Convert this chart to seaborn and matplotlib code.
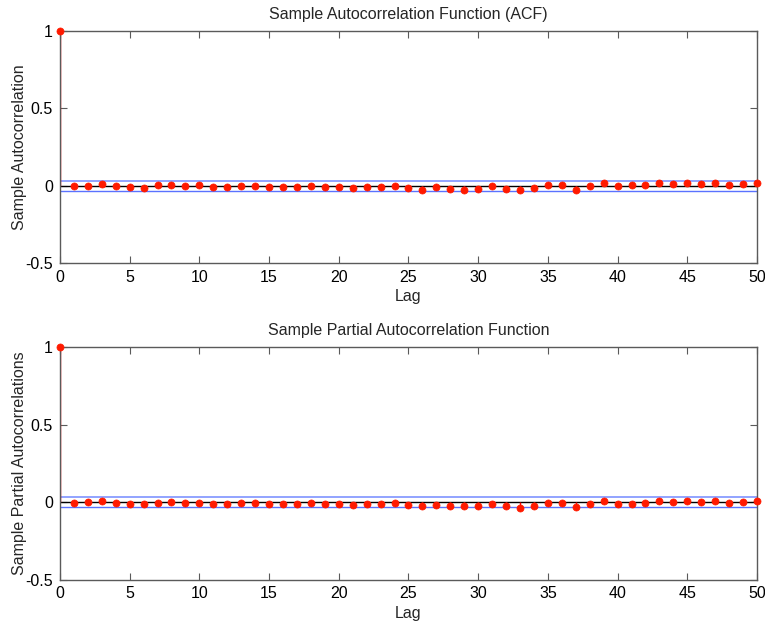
import numpy as np
import pandas as pd
import matplotlib
matplotlib.use("Agg")
import matplotlib.pyplot as plt
import seaborn as sns

lags = list(range(0, 51))
acf = [1.0,
       -0.004, -0.004, 0.011, -0.004, -0.009, -0.013, 0.002, 0.006, -0.004, 0.002,
       -0.009, -0.009, -0.002, -0.002, -0.009, -0.009, -0.009, 0.000, -0.009, -0.009,
       -0.015, -0.006, -0.006, -0.002, -0.015, -0.026, -0.009, -0.019, -0.026, -0.022,
       -0.002, -0.019, -0.030, -0.013, 0.006, 0.006, -0.026, 0.000, 0.019, -0.004,
       0.002, 0.006, 0.019, 0.013, 0.015, 0.013, 0.019, 0.004, 0.011, 0.019]
pacf = [1.0,
        -0.006, -0.002, 0.006, -0.006, -0.013, -0.013, -0.004, 0.000, -0.004, -0.004,
        -0.015, -0.015, -0.009, -0.009, -0.015, -0.015, -0.015, -0.009, -0.015, -0.015,
        -0.022, -0.015, -0.015, -0.009, -0.019, -0.028, -0.019, -0.028, -0.028, -0.028,
        -0.013, -0.028, -0.039, -0.024, -0.006, -0.006, -0.034, -0.015, 0.009, -0.015,
        -0.015, -0.006, 0.006, 0.000, 0.006, 0.000, 0.009, -0.004, 0.000, 0.009]
bound = 0.033
titles = ["Sample Autocorrelation Function (ACF)", "Sample Partial Autocorrelation Function"]
ylabels = ["Sample Autocorrelation", "Sample Partial Autocorrelations"]
xticks = [0, 5, 10, 15, 20, 25, 30, 35, 40, 45, 50]
yticks = [-0.5, 0, 0.5, 1]
yticklabels = ["-0.5", "0", "0.5", "1"]

sns.set_theme(style="white")
plt.rcParams['font.family'] = ['Liberation Sans', 'DejaVu Sans']

fig = plt.figure(figsize=(7.65, 6.23), dpi=100)
positions = [[0.0784, 0.5778, 0.9111, 0.3724], [0.0784, 0.0698, 0.9111, 0.3732]]
series = [acf, pacf]

for pos, vals, title, ylab in zip(positions, series, titles, ylabels):
    ax = fig.add_axes(pos)
    df = pd.DataFrame({"Lag": lags, "val": vals})
    ax.vlines(df["Lag"], 0, df["val"], color="red", lw=1, zorder=2)
    ax.axhline(0, color="black", lw=1, zorder=1)
    ax.axhline(bound, color="#7f93ff", lw=1.2, zorder=1)
    ax.axhline(-bound, color="#5a72ff", lw=1, zorder=1)
    sns.scatterplot(data=df, x="Lag", y="val", ax=ax, color="#ff1a00",
                    edgecolor="#ff1a00", s=26, linewidth=0.5, zorder=3, clip_on=False)
    ax.set_xlim(0, 50)
    ax.set_ylim(-0.5, 1)
    ax.set_xticks(xticks)
    ax.set_xticklabels([str(t) for t in xticks], fontsize=11.5)
    ax.set_yticks(yticks)
    ax.set_yticklabels(yticklabels, fontsize=11.5)
    ax.set_xlabel("Lag", fontsize=11.5, labelpad=3)
    ax.set_ylabel(ylab, fontsize=11.5, labelpad=-1)
    ax.set_title(title, fontsize=11.5, pad=9)
    for s in ax.spines.values():
        s.set_visible(True)
        s.set_color("#5a5a5a")
        s.set_linewidth(1)
    ax.tick_params(direction="in", length=5, width=0.8, color="#5a5a5a",
                   top=True, right=True, bottom=True, left=True, pad=5,
                   labelcolor="black")

fig.savefig("out.png", dpi=100)
